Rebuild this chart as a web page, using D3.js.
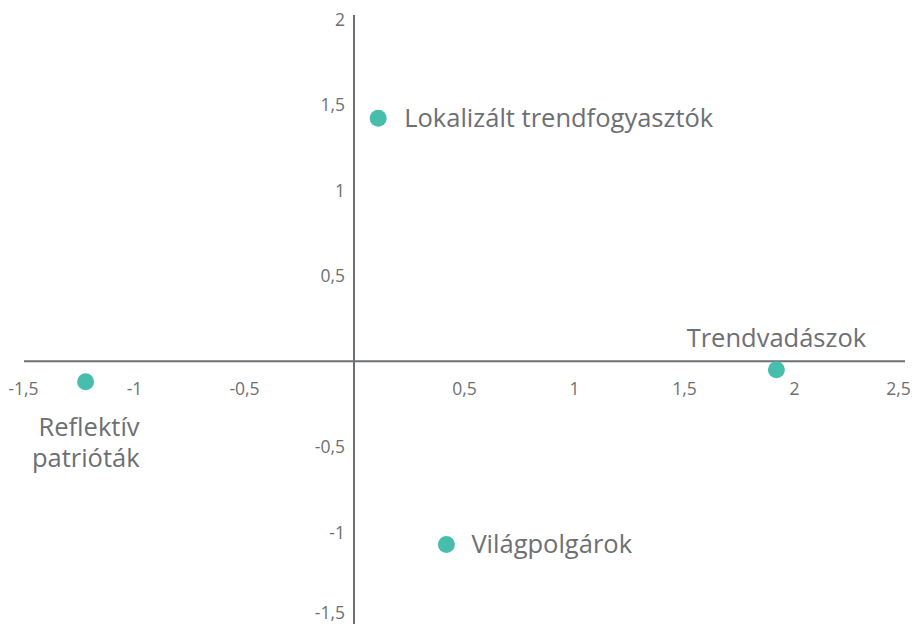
<!DOCTYPE html>
<html><head><meta charset="utf-8">
<script src="https://cdn.jsdelivr.net/npm/d3@7"></script>
<style>body{margin:0;background:#fff}svg{display:block}</style>
</head><body>
<svg id="c" width="916" height="624"></svg>
<script>
const names = ["Lokalizált trendfogyasztók", "Trendvadászok", "Reflektív patrióták", "Világpolgárok"];
const xValues = [0.11, 1.92, -1.22, 0.42];
const yValues = [1.42, -0.05, -0.12, -1.07];
const xTicks = [-1.5, -1, -0.5, 0.5, 1, 1.5, 2, 2.5];
const yTicks = [2, 1.5, 1, 0.5, -0.5, -1, -1.5];

const gray = "#6d6f73", teal = "#47bdac";
const svg = d3.select("#c");
const x = d3.scaleLinear().domain([-1.5, 2.5]).range([24, 904]);
const y = d3.scaleLinear().domain([-1.5, 2]).range([618, 19]);
const loc = d3.formatLocale({decimal: ",", thousands: " ", grouping: [3], currency: ["", ""], minus: "-"});
const fmt = loc.format("");
const font = "'Open Sans', sans-serif";

// axes
const xa = svg.append("g").attr("transform", `translate(0,${y(0)})`)
  .call(d3.axisBottom(x).tickValues(xTicks).tickSize(0).tickPadding(21).tickFormat(fmt));
const ya = svg.append("g").attr("transform", `translate(${x(0)},0)`)
  .call(d3.axisLeft(y).tickValues(yTicks).tickSize(0).tickPadding(9).tickFormat(fmt));
[xa, ya].forEach(g => {
  g.select(".domain").remove();
  g.selectAll("text").attr("fill", gray).style("font-family", font).style("font-size", "17.5px");
});
ya.selectAll("text").attr("dy", "0.35em");
ya.selectAll("text").filter(d => d === -1.5).attr("dy", "0.05em");
xa.selectAll("text").filter(d => d === 2.5).attr("dx", -6);
xa.selectAll("text").filter(d => d === -1.5).attr("dx", -1);
svg.append("line").attr("x1", x(-1.5)).attr("x2", x(2.5) + 1).attr("y1", y(0)).attr("y2", y(0))
  .attr("stroke", gray).attr("stroke-width", 2);
svg.append("line").attr("x1", x(0)).attr("x2", x(0)).attr("y1", y(2) - 4).attr("y2", y(-1.5) + 8)
  .attr("stroke", gray).attr("stroke-width", 2);

// points
const data = names.map((n, i) => ({name: n, x: xValues[i], y: yValues[i]}));
svg.selectAll("circle.pt").data(data).join("circle").attr("class", "pt")
  .attr("cx", d => x(d.x)).attr("cy", d => y(d.y)).attr("r", 8.5).attr("fill", teal);

// labels
const lab = svg.append("g").style("font-family", font).style("font-size", "25.5px").attr("fill", gray);
lab.append("text").attr("x", x(xValues[0]) + 26).attr("y", y(yValues[0])).attr("dy", "0.35em").text(names[0]);
lab.append("text").attr("x", x(xValues[3]) + 25).attr("y", y(yValues[3])).attr("dy", "0.35em").text(names[3]);
lab.append("text").attr("x", x(xValues[1])).attr("y", y(yValues[1]) - 23).attr("text-anchor", "middle").text(names[1]);
const t = lab.append("text").attr("text-anchor", "end").attr("x", x(xValues[2]) + 54).attr("y", y(yValues[2]) + 54);
names[2].split(" ").forEach((p, i) => t.append("tspan").attr("x", x(xValues[2]) + 54).attr("dy", i ? 31 : 0).text(p));
</script>
</body></html>
